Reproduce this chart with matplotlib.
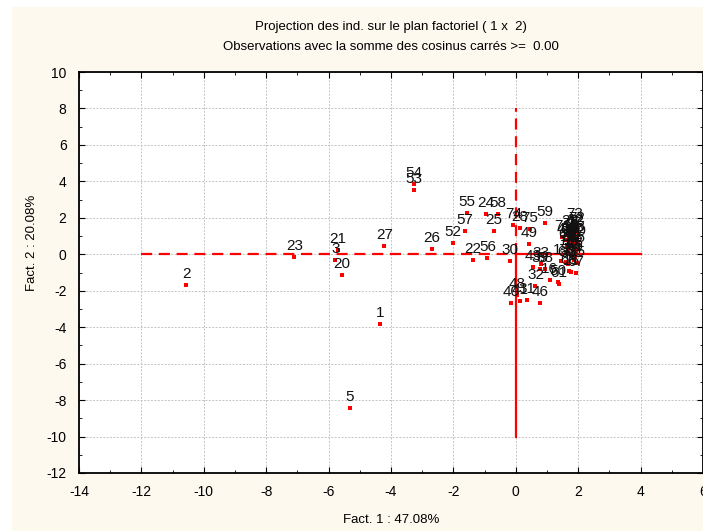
import numpy as np
import matplotlib
matplotlib.use("Agg")
import matplotlib.pyplot as plt
from matplotlib.patches import Rectangle
from matplotlib.ticker import MultipleLocator

# coordonnees des individus sur les facteurs 1 et 2
labels = [1, 2, 3, 5, 20, 21, 22, 23, 24, 25, 26, 27, 52, 53, 54, 55, 56, 57, 58,
          30, 74, 28, 75, 59, 49, 71, 72, 73, 32, 16, 50, 48, 40, 31, 46,
          43, 39, 33, 13, 15,
          4, 6, 7, 8, 9, 10, 11, 12, 14, 17, 18, 19, 29, 34, 35, 36, 37, 38,
          41, 42, 44, 45, 47, 51, 60, 61, 62, 63, 64, 65, 66, 67, 68, 69, 70]
fact1 = [-4.36, -10.57, -5.78, -5.33, -5.57, -5.71, -1.38, -7.10, -0.96, -0.70,
         -2.68, -4.21, -2.02, -3.26, -3.26, -1.57, -0.91, -1.62, -0.57,
         -0.19, -0.08, 0.13, 0.45, 0.94, 0.43, 1.49, 1.96, 1.89, 0.63, 1.09,
         1.35, 0.05, -0.15, 0.37, 0.79,
         0.55, 0.77, 0.80, 1.46, 1.78,
         1.80, 1.85, 1.62, 1.90, 1.75, 1.70, 1.88, 1.95, 1.82, 1.78, 1.92, 1.65,
         1.72, 1.85, 1.95, 1.68, 1.80, 0.95, 0.13, 1.92, 1.58, 1.98, 1.75, 1.86,
         1.60, 1.37, 1.88, 1.95, 1.70, 1.82, 1.90, 1.92, 1.71, 1.64, 1.98]
fact2 = [-3.84, -1.70, -0.29, -8.41, -1.12, 0.22, -0.29, -0.13, 2.21, 1.28,
         0.29, 0.46, 0.64, 3.53, 3.88, 2.29, -0.20, 1.28, 2.21,
         -0.35, 1.63, 1.44, 1.40, 1.72, 0.57, 0.95, 1.37, 1.59, -1.76, -1.39,
         -1.54, -2.25, -2.67, -2.52, -2.69,
         -0.70, -0.79, -0.55, -0.35, -0.99,
         0.95, 1.10, 1.05, 0.80, 0.60, 0.35, 0.45, 1.20, 0.20, -0.10, 0.05, 0.15,
         1.20, -0.30, -0.50, -0.55, 0.70, -0.80, -2.56, 0.60, 0.80, 0.30, 1.00,
         0.35, -0.45, -1.62, 1.30, 0.90, 0.80, 0.50, -0.15, -1.02, -0.92, 0.50, 0.70]

inertie = [47.08, 20.08]
cos2_min = 0.00

plt.rcParams['font.family'] = ['Liberation Sans', 'DejaVu Sans']
plt.rcParams['axes.unicode_minus'] = False

fond = '#FDF9EF'
fig = plt.figure(figsize=(7.03, 5.31), dpi=100, facecolor=fond)
# bandes blanches en haut et a gauche
fig.patches.append(Rectangle((0, 0), 12 / 703, 1, transform=fig.transFigure,
                             facecolor='white', edgecolor='none', zorder=-1))
fig.patches.append(Rectangle((0, 1 - 7 / 531), 1, 7 / 531, transform=fig.transFigure,
                             facecolor='white', edgecolor='none', zorder=-1))

ax = fig.add_axes([79 / 703, 1 - 473 / 531, 1 - 79 / 703, (473 - 72) / 531])
ax.set_facecolor('white')

ax.set_xlim(-14, 6)
ax.set_ylim(-12, 10)
ax.xaxis.set_major_locator(MultipleLocator(2))
ax.yaxis.set_major_locator(MultipleLocator(2))
ax.xaxis.set_minor_locator(MultipleLocator(1))
ax.yaxis.set_minor_locator(MultipleLocator(1))
ax.tick_params(which='both', direction='in', top=True, right=True, labelsize=10,
               colors='black')
ax.tick_params(which='major', length=4, pad=9)
ax.tick_params(which='minor', length=2.5)
ax.grid(True, which='major', color='#c4c4c4', linestyle=(0, (2, 1.5)), linewidth=0.7)
ax.set_axisbelow(True)
for s in ax.spines.values():
    s.set_linewidth(1.3)

# axes principaux en rouge
ax.plot([-12, 0], [0, 0], color='red', linestyle=(0, (5, 3)), linewidth=1.6, zorder=2)
ax.plot([0, 4], [0, 0], color='red', linewidth=1.6, zorder=2)
ax.plot([0, 0], [0, 8], color='red', linestyle=(0, (5, 3)), linewidth=1.6, zorder=2)
ax.plot([0, 0], [0, -10], color='red', linewidth=1.6, zorder=2)

ax.plot(fact1, fact2, linestyle='none', marker='s', markersize=2.7,
        color='red', markeredgewidth=0, zorder=3)
for lab, x, y in zip(labels, fact1, fact2):
    ax.annotate(str(lab), (x, y), xytext=(0, 5), textcoords='offset points',
                ha='center', va='baseline', fontsize=11, color='#111111', zorder=4)

fig.text(391 / 703, 1 - 27 / 531, 'Projection des ind. sur le plan factoriel ( 1 x  2)',
         ha='center', va='center', fontsize=9.5)
fig.text(391 / 703, 1 - 47 / 531,
         'Observations avec la somme des cosinus carrés >=  %.2f' % cos2_min,
         ha='center', va='center', fontsize=9.5)
fig.text(391 / 703, 1 - 520 / 531, 'Fact. 1 : %.2f%%' % inertie[0],
         ha='center', va='center', fontsize=9.5)
fig.text(32 / 703, 1 - 243 / 531, 'Fact. 2 : %.2f%%' % inertie[1],
         ha='center', va='center', rotation=90, fontsize=9.5)

fig.savefig('out.png', dpi=100, facecolor=fond)
